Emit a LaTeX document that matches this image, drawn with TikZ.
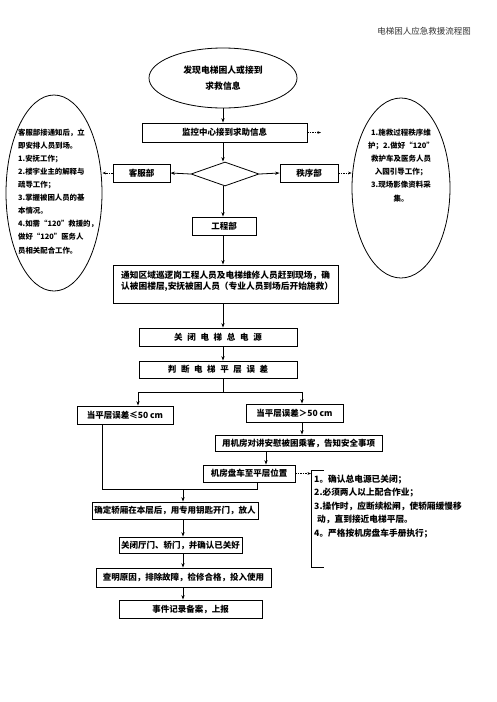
\documentclass[tikz,border=0pt]{standalone}
\usepackage{fontspec}
\setmainfont{Noto Sans CJK SC}
\usetikzlibrary{shapes.geometric,arrows.meta,calc}
\begin{document}
\begin{tikzpicture}[x=1pt,y=-1pt,
  box/.style={draw,line width=0.8pt,inner sep=0pt,font=\fontsize{8.5}{10}\selectfont\bfseries,align=center},
  oval/.style={draw,ellipse,line width=0.8pt,inner sep=0pt},
  arr/.style={line width=0.8pt,-{Stealth[length=4.5pt,width=3.2pt]}},
  dar/.style={line width=0.6pt,dash pattern=on 1.5pt off 1pt,-{Stealth[length=3.5pt,width=2.6pt]}},
  plain/.style={line width=0.8pt},
  txt/.style={inner sep=0pt,font=\bfseries}]
\fill[white] (0,0) rectangle (496,702);
% header
\node[inner sep=0pt,font=\fontsize{8.5}{10}\selectfont,text=black!80] (hd) at (424,31) {电梯困人应急救援流程图};
% top ellipse
\node[oval,minimum width=148pt,minimum height=60pt,align=center,font=\fontsize{8.8}{16}\selectfont\bfseries] (st) at (223,78) {发现电梯困人或接到\\求救信息};
% monitoring center
\node[box,minimum width=165pt,minimum height=19pt] (jk) at (224.5,132.5) {监控中心接到求助信息};
\coordinate (jkx) at (321,132.5);
% diamond
\node[draw,diamond,line width=0.8pt,inner sep=0pt,minimum width=68pt,minimum height=24pt] (dia) at (225,174) {};
\node[box,minimum width=57pt,minimum height=18pt] (kf) at (141.5,173) {客服部};
\node[box,minimum width=58pt,minimum height=18pt] (zx) at (309,173) {秩序部};
\node[box,minimum width=64pt,minimum height=18pt] (gc) at (224,226) {工程部};
% side ellipses
\node[oval,minimum width=96pt,minimum height=196pt] (lel) at (54,193) {};
\node[txt,anchor=north west,align=left,font=\fontsize{7.4}{13.1}\selectfont\bfseries] (ltx) at (18,128.5) {客服部接通知后，立\\即安排人员到场。\\1.安抚工作；\\2.楼宇业主的解释与\\疏导工作；\\3.掌握被困人员的基\\本情况。\\4.如需“120”救援的，\\做好“120”医务人\\员相关配合工作。};
\node[oval,minimum width=98pt,minimum height=180pt] (rel) at (401,188) {};
\node[txt,anchor=north,align=center,font=\fontsize{7.5}{13.2}\selectfont\bfseries] (rtx) at (401,128.5) {1.施救过程秩序维\\护；2.做好“120”\\救护车及医务人员\\入园引导工作；\\3.现场影像资料采\\集。};
% notify box
\node[box,minimum width=225pt,minimum height=38pt] (tz) at (225.5,284) {};
\node[txt,anchor=north west,align=left,font=\fontsize{8.7}{11.5}\selectfont\bfseries] (tzt) at (121,270.5) {通知区域巡逻岗工程人员及电梯维修人员赶到现场，确\\认被困楼层,安抚被困人员（专业人员到场后开始施救）};
% power / judge
\node[box,minimum width=158pt,minimum height=18pt] (gb) at (218,337) {关\hspace{4.7pt}闭\hspace{4.7pt}电\hspace{4.7pt}梯\hspace{4.7pt}总\hspace{4.7pt}电\hspace{4.7pt}源};
\node[box,minimum width=158pt,minimum height=17pt] (pd) at (218,369.5) {判\hspace{4.6pt}断\hspace{4.6pt}电\hspace{4.6pt}梯\hspace{4.6pt}平\hspace{4.6pt}层\hspace{4.6pt}误\hspace{4.6pt}差};
% branches
\node[box,minimum width=96pt,minimum height=18pt] (le) at (125,415) {当平层误差≤50 cm};
\node[box,minimum width=97pt,minimum height=18pt] (gt) at (294.5,413) {当平层误差＞50 cm};
\node[box,minimum width=167pt,minimum height=16pt] (yj) at (298.5,443) {用机房对讲安慰被困乘客，告知安全事项};
\node[box,minimum width=92pt,minimum height=17pt] (pc) at (249,473.5) {机房盘车至平层位置};
% bracket note
\draw[plain] (324,470) -- (311,470) -- (311,567) -- (324,567);
\coordinate (brk) at (311,474);
\node[txt,anchor=north west,align=left,font=\fontsize{8.7}{13.5}\selectfont\bfseries] (btx) at (314,474.5) {1。确认总电源已关闭；\\2.必须两人以上配合作业；\\3.操作时，应断续松闸，使轿厢缓慢移\\\hspace{3pt}动，直到接近电梯平层。\\4。严格按机房盘车手册执行；};
% bottom chain
\node[box,minimum width=166pt,minimum height=17pt] (qd) at (175,510.5) {确定轿厢在本层后，用专用钥匙开门，放人};
\node[box,minimum width=123pt,minimum height=16pt] (gm) at (180.5,545) {关闭厅门、轿门，并确认已关好};
\node[box,minimum width=175pt,minimum height=19pt] (cm) at (183.5,577.5) {查明原因，排除故障，检修合格，投入使用};
\node[box,minimum width=143pt,minimum height=18pt] (sj) at (190.5,609) {事件记录备案，上报};
% helper coordinates
\coordinate (sp) at (223,0);
\coordinate (ja) at (138,392);
\coordinate (jb) at (302,392);
\coordinate (jc) at (223,392);
\coordinate (jd) at (266,0);
\coordinate (je) at (102,489);
\coordinate (jf) at (257,489);
\coordinate (jg) at (183,489);
\coordinate (sp2) at (183,0);
% connectors
\draw[arr] (st.south -| sp) -- (jk.north -| sp);
\draw[dar] (jk.east) -- (jkx);
\draw[arr] (jk.south -| sp) -- (dia.north -| sp);
\draw[arr] (dia.west) -- (kf.east);
\draw[arr] (dia.east) -- (zx.west);
\draw[arr] (dia.south -| sp) -- (gc.north -| sp);
\draw[dar] (kf.west) -- (lel.east |- kf.west);
\draw[dar] (zx.east) -- (rel.west |- zx.east);
\draw[arr] (gc.south -| sp) -- (tz.north -| sp);
\draw[arr] (tz.south -| sp) -- (gb.north -| sp);
\draw[arr] (gb.south -| sp) -- (pd.north -| sp);
\draw[plain] (pd.south -| sp) -- (jc);
\draw[plain] (ja) -- (jb);
\draw[arr] (ja) -- (le.north -| ja);
\draw[arr] (jb) -- (gt.north -| jb);
\draw[arr] (gt.south -| jb) -- (yj.north -| jb);
\draw[arr] (yj.south -| jd) -- (pc.north -| jd);
\draw[dar] (pc.east) -- (pc.east -| brk);
\draw[plain] (le.south -| je) -- (je) -- (jf) -- (pc.south -| jf);
\draw[arr] (jg) -- (qd.north -| jg);
\draw[arr] (qd.south -| sp2) -- (gm.north -| sp2);
\draw[arr] (gm.south -| sp2) -- (cm.north -| sp2);
\draw[arr] (cm.south -| sp2) -- (sj.north -| sp2);
\end{tikzpicture}
\end{document}
